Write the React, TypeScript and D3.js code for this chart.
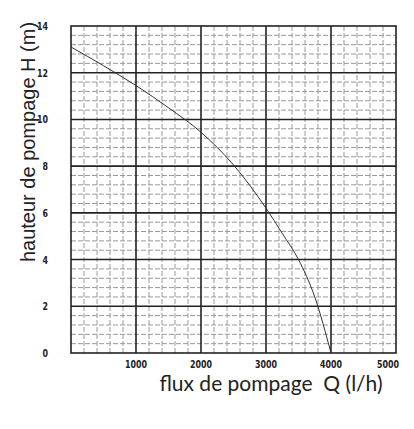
import React from "react";
import * as d3 from "d3";

const flowQ = [0, 500, 1000, 1500, 2000, 2500, 3000, 3250, 3500, 3750, 4000];
const headH = [13.1, 12.3, 11.45, 10.5, 9.45, 8.05, 6.2, 5.12, 4.0, 2.4, 0];
const xTickLabels = ["1000", "2000", "3000", "4000", "5000"];
const yTickLabels = ["0", "2", "4", "6", "8", "10", "12", "14"];
const xTitle = "flux de pompage  Q (l/h)";
const yTitle = "hauteur de pompage H (m)";

const W = 414, H = 429;
const L = 71, R = 396, T = 26, B = 353;

export default function App() {
  const x = d3.scaleLinear().domain([0, 5000]).range([L, R]);
  const y = d3.scaleLinear().domain([0, 14]).range([B, T]);
  const isMult = (v: number, m: number) => Math.abs(v / m - Math.round(v / m)) < 1e-6;
  const minorX = d3.range(0, 26).map((i) => i * 200).filter((v) => !isMult(v, 1000));
  const minorY = d3.range(0, 36).map((i) => Math.round(i * 4) / 10).filter((v) => !isMult(v, 2));
  const majorX = d3.range(1000, 5000, 1000);
  const majorY = d3.range(2, 14, 2);
  const line = d3.line<number>().x((_, i) => x(flowQ[i])).y((d) => y(d)).curve(d3.curveMonotoneX);
  const tickFont = "'DejaVu Sans', sans-serif";
  return (
    <svg width={W} height={H} style={{ position: "absolute", left: 0, top: 0, background: "#fff" }}>
      <g>
        {minorX.map((v) => (
          <line key={"mx" + v} x1={x(v)} x2={x(v)} y1={T} y2={B} stroke="#999" strokeWidth={1} strokeDasharray="5,2" />
        ))}
        {minorY.map((v) => (
          <line key={"my" + v} x1={L} x2={R} y1={y(v)} y2={y(v)} stroke="#999" strokeWidth={1} strokeDasharray="5,2" />
        ))}
        {majorX.map((v) => (
          <line key={"MX" + v} x1={x(v)} x2={x(v)} y1={T} y2={B} stroke="#222" strokeWidth={1.6} />
        ))}
        {majorY.map((v) => (
          <line key={"MY" + v} x1={L} x2={R} y1={y(v)} y2={y(v)} stroke="#222" strokeWidth={1.6} />
        ))}
        <rect x={L} y={T} width={R - L} height={B - T} fill="none" stroke="#222" strokeWidth={1.6} />
      </g>
      <path d={line(headH) || ""} fill="none" stroke="#333" strokeWidth={1} />
      {xTickLabels.map((t, i) => {
        const v = +t;
        const off = i === xTickLabels.length - 1 ? -8 : 0;
        return (
          <g key={t} transform={`translate(${x(v) + off}, 368) scale(0.72, 1)`}>
            <text x={0} y={0} textAnchor="middle" fontFamily={tickFont} fontWeight="bold" fontSize={11} fill="#222">
              {t}
            </text>
          </g>
        );
      })}
      {yTickLabels.map((t) => (
        <g key={t} transform={`translate(48, ${y(+t) + 4}) scale(0.72, 1)`}>
          <text x={0} y={0} textAnchor="end" fontFamily={tickFont} fontWeight="bold" fontSize={11} fill="#222">
            {t}
          </text>
        </g>
      ))}
      <text x={271} y={391} textAnchor="middle" fontFamily="Lato, 'Open Sans', sans-serif" fontSize={21} fill="#222" style={{ whiteSpace: "pre" }}>
        {xTitle}
      </text>
      <text transform={`translate(35, 142) rotate(-90)`} textAnchor="middle" fontFamily="'Liberation Sans', Arial, sans-serif" fontSize={20} fill="#222">
        {yTitle}
      </text>
    </svg>
  );
}
